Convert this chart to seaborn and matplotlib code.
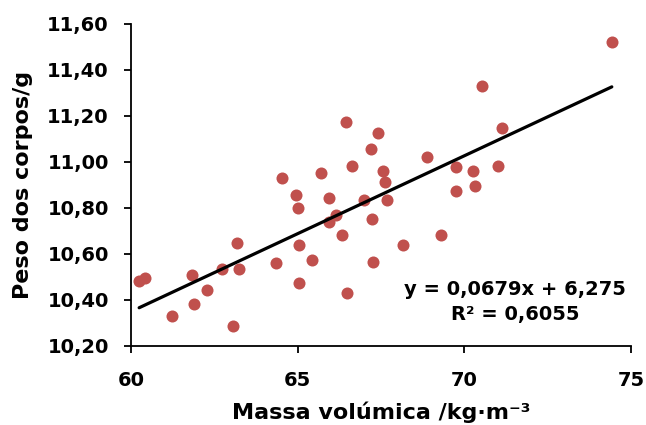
import numpy as np
import pandas as pd
import matplotlib
matplotlib.use('Agg')
import matplotlib.pyplot as plt
from matplotlib.ticker import FuncFormatter
import seaborn as sns

# dados
massa_vol = [60.24, 60.43, 61.23, 61.83, 61.89, 62.27, 62.72, 63.07, 63.17, 63.24,
             64.34, 64.54, 64.95, 65.02, 65.04, 65.04, 65.44, 65.71, 65.95, 65.94,
             66.15, 66.34, 66.45, 66.47, 66.62, 66.99, 67.21, 67.22, 67.25, 67.40,
             67.55, 67.62, 67.69, 68.17, 68.88, 69.31, 69.74, 69.75, 70.26, 70.31,
             70.52, 71.01, 71.12, 74.42]
peso = [10.483, 10.494, 10.330, 10.509, 10.384, 10.443, 10.533, 10.287, 10.646, 10.533,
        10.559, 10.932, 10.855, 10.800, 10.638, 10.472, 10.573, 10.952, 10.842, 10.739,
        10.771, 10.683, 11.173, 10.429, 10.981, 10.833, 11.058, 10.752, 10.564, 11.124,
        10.960, 10.913, 10.836, 10.638, 11.021, 10.682, 10.978, 10.872, 10.961, 10.897,
        11.328, 10.984, 11.147, 11.519]
equacao = 'y = 0,0679x + 6,275'
r2 = 'R² = 0,6055'
x_ticks = [60, 65, 70, 75]
y_ticks = [10.2, 10.4, 10.6, 10.8, 11.0, 11.2, 11.4, 11.6]

df = pd.DataFrame({'massa': massa_vol, 'peso': peso})

sns.set_style('ticks')
plt.rcParams['font.family'] = ['DejaVu Sans']
plt.rcParams['font.weight'] = 'bold'
plt.rcParams['text.color'] = 'black'
plt.rcParams['axes.labelcolor'] = 'black'
plt.rcParams['xtick.color'] = 'black'
plt.rcParams['ytick.color'] = 'black'

fig = plt.figure(figsize=(6.46, 4.25), dpi=100)
ax = fig.add_axes([0.203, 0.186, 0.774, 0.758])

sns.regplot(data=df, x='massa', y='peso', ax=ax, ci=None, truncate=True,
            scatter_kws={'s': 75, 'color': '#C0504D', 'linewidths': 0, 'alpha': 1, 'zorder': 2},
            line_kws={'color': 'black', 'lw': 2.3, 'zorder': 3})

ax.set_xlim(60, 75)
ax.set_ylim(10.2, 11.6)
ax.set_xticks(x_ticks)
ax.set_yticks(y_ticks)
ax.yaxis.set_major_formatter(FuncFormatter(lambda v, p: f'{v:.2f}'.replace('.', ',')))
ax.tick_params(axis='both', labelsize=14, length=5, width=1.3, colors='black')
ax.tick_params(axis='x', pad=13)
ax.tick_params(axis='y', pad=11)
for lab in ax.get_xticklabels() + ax.get_yticklabels():
    lab.set_fontweight('bold')
sns.despine(ax=ax)
for s in ['left', 'bottom']:
    ax.spines[s].set_linewidth(1.3)
    ax.spines[s].set_color('black')

ax.set_xlabel('Massa volúmica /kg·m⁻³', fontsize=16, fontweight='bold', labelpad=8, color='black')
ax.set_ylabel('Peso dos corpos/g', fontsize=16, fontweight='bold', labelpad=10, color='black')

ax.text(71.52, 10.39, equacao + '\n' + r2, ha='center', va='center', color='black',
        multialignment='center', fontsize=14, fontweight='bold', linespacing=1.4)

fig.savefig('out.png', dpi=100)
